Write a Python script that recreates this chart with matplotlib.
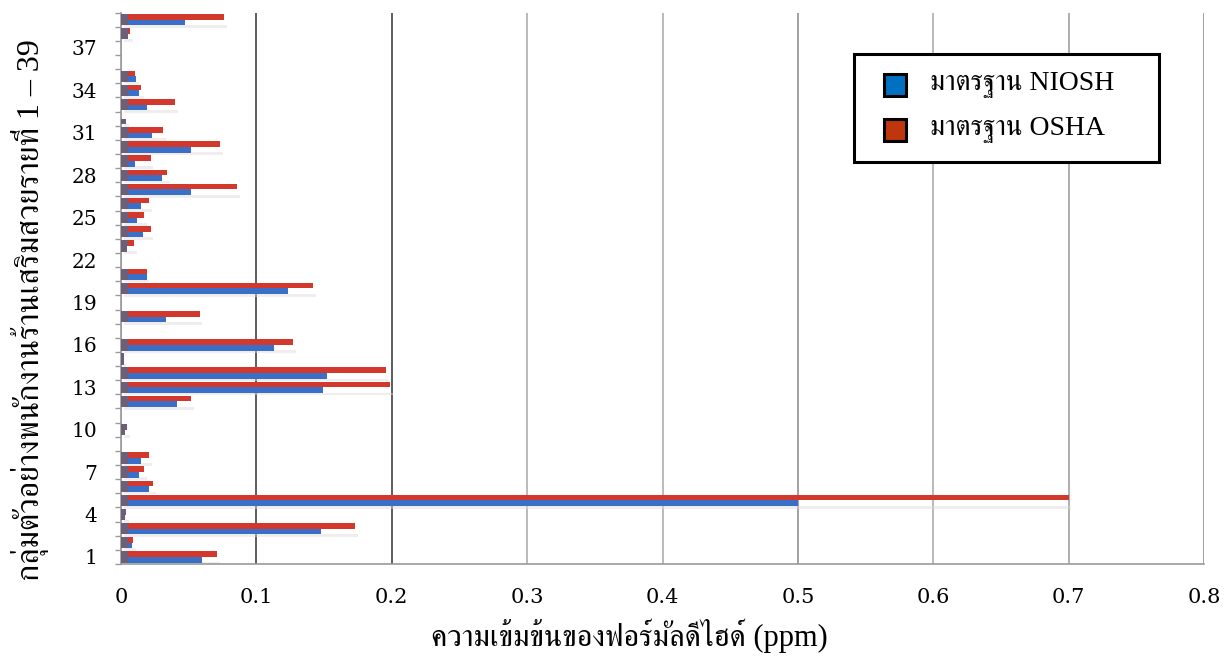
import numpy as np
import matplotlib
matplotlib.use("Agg")
import matplotlib.pyplot as plt
from matplotlib import font_manager
from matplotlib.ft2font import FT2Font
from matplotlib.patches import Rectangle

# ---- data -------------------------------------------------------------
samples = list(range(1, 40))
niosh = [0.060, 0.008, 0.148, 0.003, 0.500, 0.021, 0.013, 0.015, 0.0, 0.003,
         0.0, 0.041, 0.149, 0.152, 0.002, 0.113, 0.0, 0.033, 0.0, 0.123,
         0.019, 0.0, 0.0045, 0.016, 0.012, 0.015, 0.052, 0.030, 0.010, 0.052,
         0.023, 0.004, 0.019, 0.013, 0.011, 0.0, 0.0, 0.005, 0.047]
osha = [0.071, 0.009, 0.173, 0.004, 0.700, 0.024, 0.017, 0.021, 0.0, 0.0045,
        0.0, 0.052, 0.199, 0.196, 0.002, 0.127, 0.0, 0.058, 0.0, 0.142,
        0.019, 0.0, 0.0095, 0.022, 0.017, 0.021, 0.086, 0.034, 0.022, 0.073,
        0.031, 0.0, 0.040, 0.015, 0.010, 0.0, 0.0, 0.007, 0.076]
xticks = [0, 0.1, 0.2, 0.3, 0.4, 0.5, 0.6, 0.7, 0.8]
xtick_labels = ["0", "0.1", "0.2", "0.3", "0.4", "0.5", "0.6", "0.7", "0.8"]
ytick_samples = list(range(1, 40, 3))
series_names = ["มาตรฐาน NIOSH", "มาตรฐาน OSHA"]
xlabel_text = "ความเข้มข้นของฟอร์มัลดีไฮด์ (ppm)"
ylabel_text = "กลุ่มตัวอย่างพนักงานร้านเสริมสวยรายที่ 1 – 39"


# ---- fonts: locate a face that carries Thai glyphs ----------------------
def thai_families():
    serif, other = [], []
    seen = set()
    for f in font_manager.fontManager.ttflist:
        if f.name in seen:
            continue
        try:
            cmap = FT2Font(f.fname).get_charmap()
        except Exception:
            continue
        if 0x0E21 in cmap and 0x0E49 in cmap:
            seen.add(f.name)
            n = f.name.lower()
            if "serif" in n or "norasi" in n or "kinnari" in n:
                serif.append(f.name)
            else:
                other.append(f.name)
    return serif + other


thai = thai_families()
latin_serif = "Liberation Serif"
text_family = [latin_serif] + thai + ["DejaVu Serif"] if thai else [latin_serif, "DejaVu Serif"]

# ---- figure -----------------------------------------------------------
W, H = 1231, 659
fig = plt.figure(figsize=(W / 100, H / 100), dpi=100)
fig.patch.set_facecolor("white")


def fx(px):
    return px / W


def fy(py):
    return 1 - py / H


ax = fig.add_axes([fx(121), fy(564), fx(1204) - fx(121), fy(12.6) - fy(564)])

y = np.array(samples, dtype=float)
nv = np.array(niosh)
ov = np.array(osha)
bh = 0.4
off = 0.2

blue = "#3a6fc7"
red = "#d2382c"
cap = "#6d5f77"

# soft shading beneath each pair of bars
ax.barh(y - off - 0.28, np.maximum(nv, ov), height=0.2, left=0.002,
        color="#dcd9d9", alpha=0.45, linewidth=0, zorder=2)
ax.barh(y + off, ov, height=bh, color=red, linewidth=0, zorder=3)
ax.barh(y - off, nv, height=bh, color=blue, linewidth=0, zorder=3)
# darker face at the base of each bar
ax.barh(y + off, np.minimum(ov, 0.0052), height=bh, color=cap, linewidth=0, zorder=4)
ax.barh(y - off, np.minimum(nv, 0.0052), height=bh, color=cap, linewidth=0, zorder=4)

ax.set_xlim(0, 0.8)
ax.set_ylim(0.5, 39.5)

ax.set_xticks(xticks)
ax.set_xticklabels(xtick_labels, fontfamily="DejaVu Serif", fontsize=15)
ax.set_yticks(ytick_samples)
ax.set_yticklabels([str(s) for s in ytick_samples], fontfamily="DejaVu Serif", fontsize=14.5)
ax.set_yticks(np.arange(0.5, 40, 1.0), minor=True)
ax.tick_params(axis="x", length=0, pad=17)
ax.tick_params(axis="y", which="major", length=0, pad=17)
ax.tick_params(axis="y", which="minor", length=4, color="#9a9a9a", width=1)

for s in ["top", "right"]:
    ax.spines[s].set_visible(False)
for s in ["left", "bottom"]:
    ax.spines[s].set_color("#9a9a9a")
    ax.spines[s].set_linewidth(1.2)

ax.grid(axis="x", linewidth=1.3, zorder=1)
ax.set_axisbelow(True)
grid_colors = ["#9a9a9a", "#4f4f4f", "#4f4f4f", "#b4b4b4", "#b4b4b4",
               "#9a9a9a", "#b4b4b4", "#a8a8a8", "#9a9a9a"]
for gl, c in zip(ax.get_xgridlines(), grid_colors):
    gl.set_color(c)

# axis titles
fig.text(fx(629), fy(636), xlabel_text, ha="center", va="center",
         fontsize=22, family=text_family)
fig.text(fx(30), fy(310), ylabel_text, ha="center", va="center",
         rotation=90, fontsize=23, family=text_family)

# legend box
fig.add_artist(Rectangle((fx(854), fy(162)), fx(1159) - fx(854), fy(54) - fy(162),
                         transform=fig.transFigure, facecolor="white",
                         edgecolor="black", linewidth=2.2, zorder=10))
legend_colors = ["#0070c0", "#c0360c"]
for i, (name, c) in enumerate(zip(series_names, legend_colors)):
    cy = 85 + i * 45
    fig.add_artist(Rectangle((fx(884), fy(cy + 11)), fx(22), 22 / H,
                             transform=fig.transFigure, facecolor=c,
                             edgecolor="black", linewidth=2.2, zorder=11))
    fig.text(fx(930), fy(cy), name, ha="left", va="center", fontsize=20,
             family=text_family, zorder=12)

fig.savefig("out.png", dpi=100, facecolor="white")
